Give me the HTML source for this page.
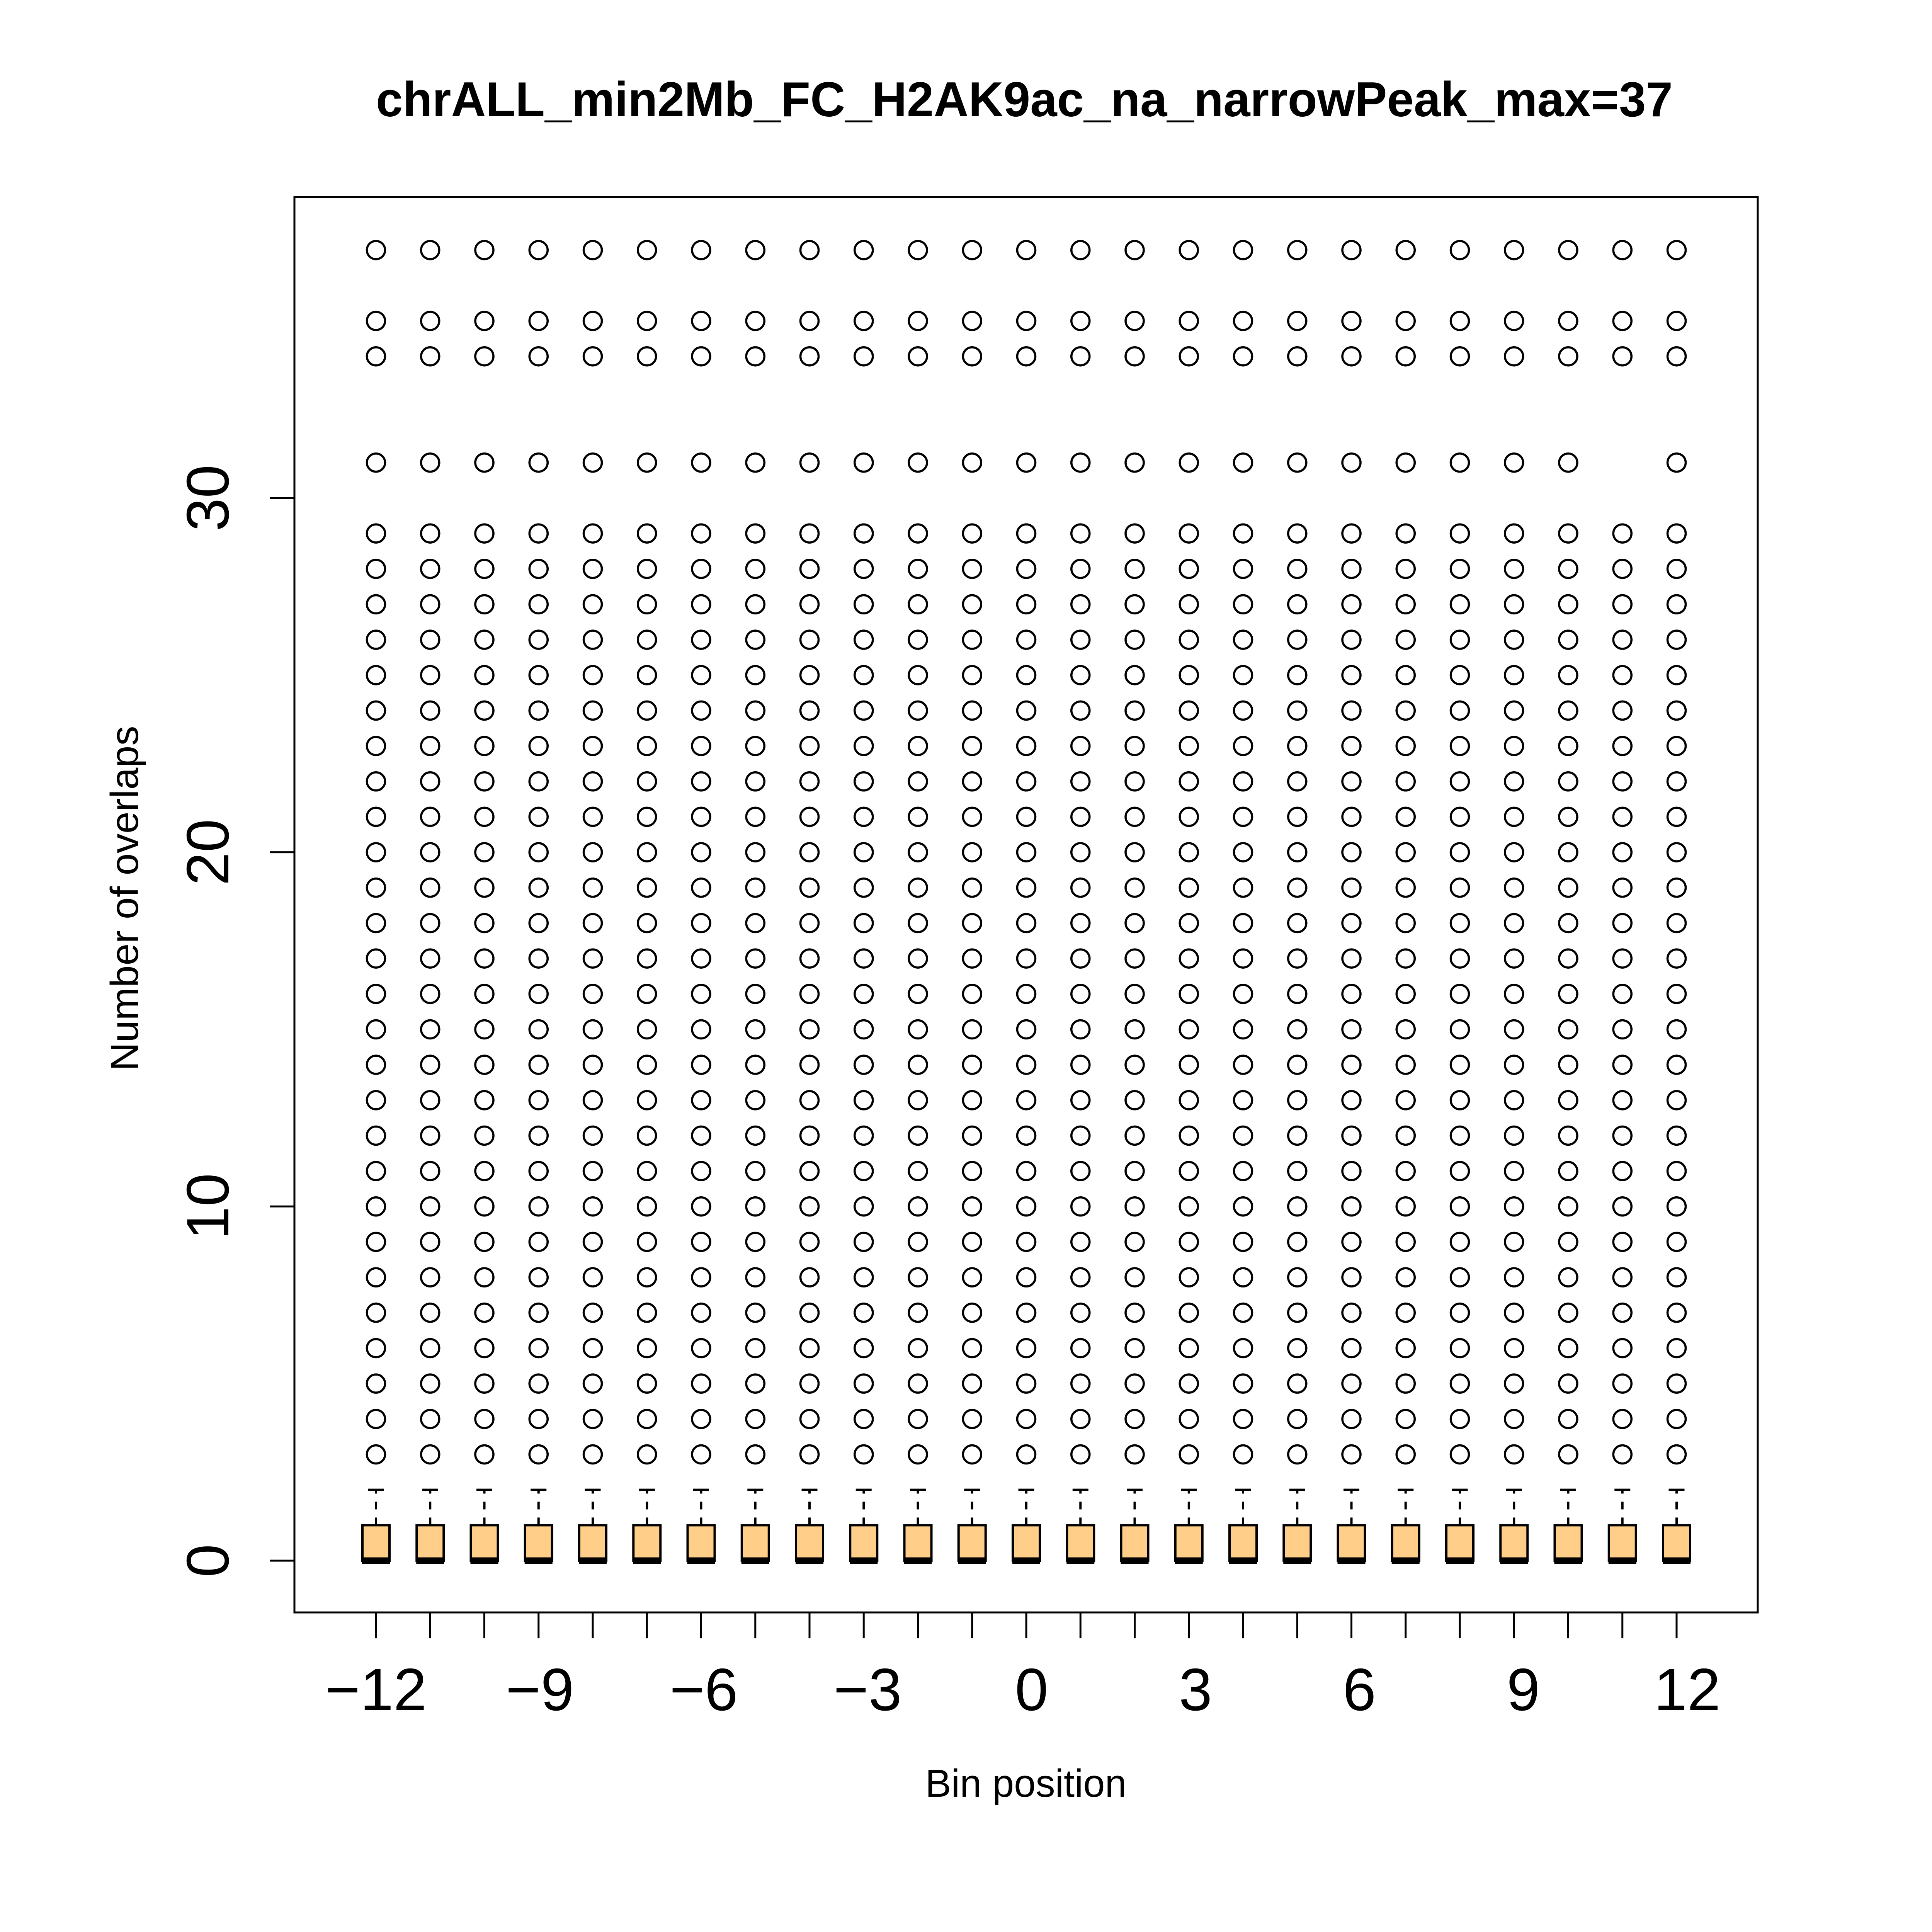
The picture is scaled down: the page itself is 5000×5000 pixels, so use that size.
<!DOCTYPE html>
<html><head><meta charset="utf-8"><title>chrALL_min2Mb_FC_H2AK9ac_na_narrowPeak_max=37</title>
<style>html,body{margin:0;padding:0;background:#fff}svg{display:block}</style></head>
<body>
<svg id="chart" xmlns="http://www.w3.org/2000/svg" width="5000" height="5000" viewBox="0 0 5000 5000" font-family="'Liberation Sans', Arial, sans-serif">
<rect width="5000" height="5000" fill="#fff"/>
<text x="2651" y="301" font-size="127" font-weight="bold" text-anchor="middle" textLength="3356" lengthAdjust="spacingAndGlyphs">chrALL_min2Mb_FC_H2AK9ac_na_narrowPeak_max=37</text>
<rect x="762" y="510" width="3787" height="3663" fill="none" stroke="#000" stroke-width="5"/>
<text x="2655" y="4650" font-size="101" text-anchor="middle" textLength="521" lengthAdjust="spacingAndGlyphs">Bin position</text>
<text transform="translate(357,2325) rotate(-90)" font-size="101" text-anchor="middle" textLength="893" lengthAdjust="spacingAndGlyphs">Number of overlaps</text>
<g id="ticks"></g>
<g id="marks"></g>
</svg>
<script>
const bins = [-12,-11,-10,-9,-8,-7,-6,-5,-4,-3,-2,-1,0,1,2,3,4,5,6,7,8,9,10,11,12];
const q1 = [0,0,0,0,0,0,0,0,0,0,0,0,0,0,0,0,0,0,0,0,0,0,0,0,0];
const medians = [0,0,0,0,0,0,0,0,0,0,0,0,0,0,0,0,0,0,0,0,0,0,0,0,0];
const q3 = [1,1,1,1,1,1,1,1,1,1,1,1,1,1,1,1,1,1,1,1,1,1,1,1,1];
const whiskerLow = [0,0,0,0,0,0,0,0,0,0,0,0,0,0,0,0,0,0,0,0,0,0,0,0,0];
const whiskerHigh = [2,2,2,2,2,2,2,2,2,2,2,2,2,2,2,2,2,2,2,2,2,2,2,2,2];
const outlierBase = [3,4,5,6,7,8,9,10,11,12,13,14,15,16,17,18,19,20,21,22,23,24,25,26,27,28,29,31,34,35,37];
const outlierBaseNo31 = [3,4,5,6,7,8,9,10,11,12,13,14,15,16,17,18,19,20,21,22,23,24,25,26,27,28,29,34,35,37];
const outliers = bins.map(b => b === 11 ? outlierBaseNo31 : outlierBase);
const yTicks = [0,10,20,30];
const xLabels = [-12,-9,-6,-3,0,3,6,9,12];

const NS = 'http://www.w3.org/2000/svg';
const xScale = i => 973 + i * 140.25;
const yScale = v => 4039 - v * 91.67;
const xLabelScale = v => 973 + (v + 12) * 141.4;
function mk(tag, attrs, parent) {
  const e = document.createElementNS(NS, tag);
  for (const k in attrs) e.setAttribute(k, attrs[k]);
  parent.appendChild(e);
  return e;
}
const ticks = document.getElementById('ticks');
const marks = document.getElementById('marks');

yTicks.forEach(v => {
  const l = mk('line', {x1: 698, x2: 762, y1: yScale(v), y2: yScale(v), stroke: '#000', 'stroke-width': 5}, ticks);
  
  
  const t = mk('text', {transform: `translate(591,${yScale(v)}) rotate(-90)`, 'font-size': 155, 'text-anchor': 'middle'}, ticks);
  t.textContent = String(v);
  
  
});
bins.forEach((b, i) => {
  const l = mk('line', {x1: xScale(i), x2: xScale(i), y1: 4173, y2: 4240, stroke: '#000', 'stroke-width': 5}, ticks);
  
  
});
xLabels.forEach(v => {
  const t = mk('text', {x: xLabelScale(v), y: 4426, 'font-size': 155, 'text-anchor': 'middle'}, ticks);
  t.textContent = v < 0 ? '\u2212' + Math.abs(v) : String(v);
  
  
});

bins.forEach((b, i) => {
  const cx = xScale(i);
  const g = mk('g', {}, marks);
  
  
  const w = mk('line', {x1: cx, x2: cx, y1: yScale(q3[i]), y2: yScale(whiskerHigh[i]), stroke: '#000', 'stroke-width': 6, 'stroke-dasharray': '20 21'}, g);
  
  
  const cap = mk('line', {x1: cx - 20.5, x2: cx + 20.5, y1: yScale(whiskerHigh[i]), y2: yScale(whiskerHigh[i]), stroke: '#000', 'stroke-width': 6}, g);
  
  
  const lw = mk('line', {x1: cx - 20.5, x2: cx + 20.5, y1: yScale(whiskerLow[i]), y2: yScale(whiskerLow[i]), stroke: '#000', 'stroke-width': 6}, g);
  
  
  const r = mk('rect', {x: cx - 35, y: yScale(q3[i]), width: 70, height: yScale(q1[i]) - yScale(q3[i]), fill: '#FFCF8A', stroke: '#000', 'stroke-width': 6}, g);
  
  
  const m = mk('line', {x1: cx - 36, x2: cx + 36, y1: yScale(medians[i]), y2: yScale(medians[i]), stroke: '#000', 'stroke-width': 17}, g);
  
  
  outliers[i].forEach(v => {
    const c = mk('circle', {cx: cx, cy: yScale(v), r: 23.5, fill: 'none', stroke: '#000', 'stroke-width': 5.5}, g);
    
    
  });
});
</script>
</body></html>
